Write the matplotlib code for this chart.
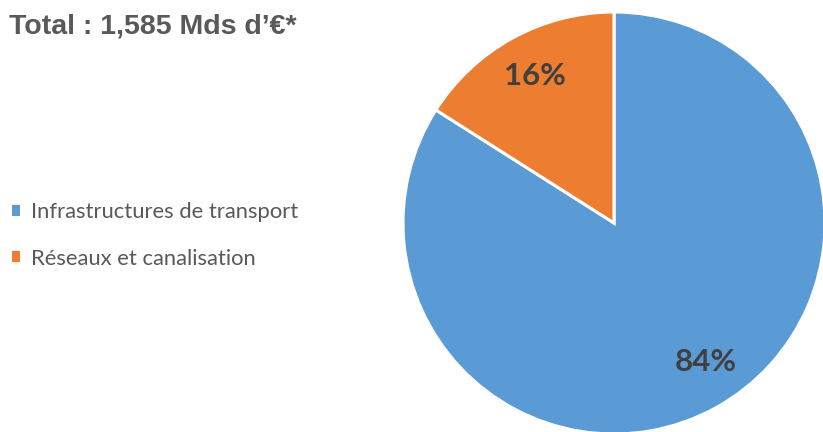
import matplotlib.pyplot as plt

# données
labels = ['Infrastructures de transport', 'Réseaux et canalisation']
values = [84, 16]
pct_text = ['84%', '16%']
colors = ['#5B9BD5', '#ED7D31']

W, H = 823, 432
fig = plt.figure(figsize=(W / 100, H / 100), dpi=100)
ax = fig.add_axes([0, 0, 1, 1])

# camembert : centre et rayon en pixels
wedges, _ = ax.pie(values, colors=colors, startangle=90, counterclock=False,
                   center=(614, H - 223), radius=211,
                   wedgeprops=dict(edgecolor='white', linewidth=2.2))
for w in wedges:
    w.set_clip_on(False)

ax.set_xlim(0, W)
ax.set_ylim(0, H)
ax.set_aspect('equal')
ax.axis('off')

# étiquettes des pourcentages
ax.text(706, H - 362, pct_text[0], ha='center', va='center', fontsize=22.5,
        fontweight='bold', color='#404040', family='Lato')
ax.text(535, H - 76, pct_text[1], ha='center', va='center', fontsize=22.5,
        fontweight='bold', color='#404040', family='Lato')

# titre
fig.text(9 / W, 1 - 27 / H, 'Total : 1,585 Mds d’€*', ha='left', va='center',
         fontsize=20.5, fontweight='bold', color='#595959', family='Liberation Sans')

# légende
leg = fig.legend(wedges, labels, loc='center left', bbox_to_anchor=(12 / W, 1 - 235.5 / H),
                 frameon=False, borderpad=0, borderaxespad=0,
                 handlelength=0.38, handleheight=0.38, handletextpad=0.5,
                 labelspacing=1.2, prop={'family': 'Lato', 'size': 15.8})
for t in leg.get_texts():
    t.set_color('#595959')
for h in leg.legend_handles:
    h.set_edgecolor('none')

fig.savefig('out.png', dpi=100)
